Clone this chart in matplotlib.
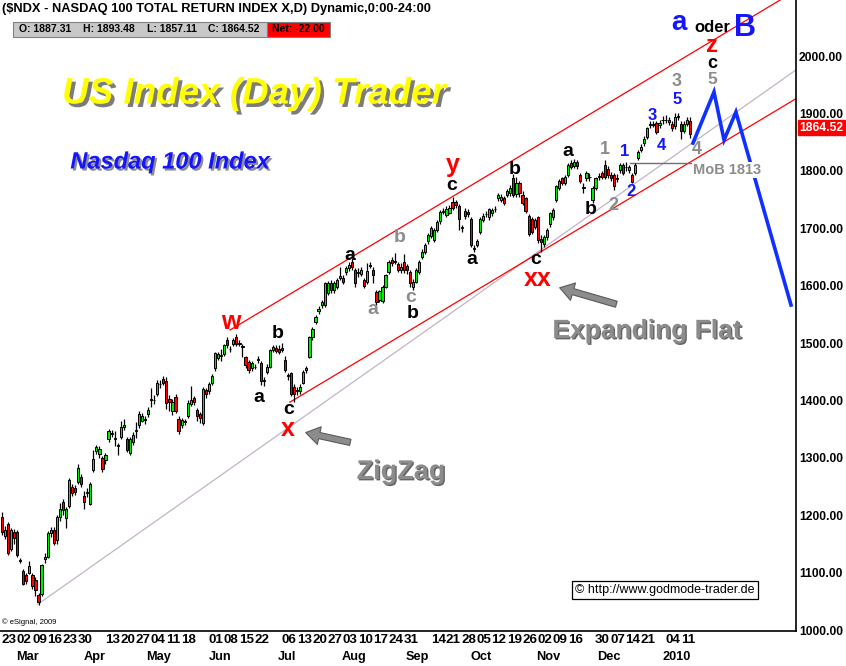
import matplotlib
matplotlib.use("Agg")
import numpy as np
import pandas as pd
import matplotlib.pyplot as plt
import matplotlib.patheffects as pe
from matplotlib.patches import Rectangle
from matplotlib.transforms import IdentityTransform, blended_transform_factory

plt.rcParams['font.family'] = ['Liberation Sans', 'DejaVu Sans']

W, H, DPI = 846, 666, 100

# ---------------- data ----------------
holidays = pd.to_datetime(['2009-04-10', '2009-05-25', '2009-07-03', '2009-09-07',
                           '2009-11-26', '2009-12-25', '2010-01-01'])
dates = pd.bdate_range('2009-02-19', '2010-01-12')
dates = dates[~dates.isin(holidays)]

opens = [1197, 1163, 1184, 1142, 1170, 1171, 1122, 1102, 1096, 1100, 1096, 1087, 1061, 1062, 1123, 1128,
         1169, 1175, 1157, 1197, 1223, 1195, 1216, 1249, 1247, 1258, 1267, 1233, 1239, 1220, 1278, 1312,
         1306, 1299, 1296, 1332, 1342, 1334, 1320, 1337, 1354, 1333, 1309, 1327, 1347, 1357, 1365, 1366,
         1376, 1400, 1400, 1412, 1428, 1437, 1433, 1402, 1381, 1406, 1368, 1357, 1363, 1372, 1393, 1404,
         1383, 1376, 1361, 1418, 1416, 1430, 1456, 1474, 1480, 1481, 1506, 1489, 1498, 1510, 1499, 1494,
         1475, 1467, 1456, 1459, 1470, 1465, 1436, 1450, 1459, 1488, 1492, 1490, 1492, 1470, 1442, 1447,
         1424, 1417, 1416, 1431, 1453, 1476, 1510, 1537, 1555, 1566, 1566, 1587, 1604, 1592, 1598, 1613,
         1613, 1623, 1630, 1642, 1627, 1622, 1621, 1610, 1607, 1634, 1628, 1589, 1575, 1573, 1598, 1624,
         1645, 1642, 1638, 1628, 1642, 1634, 1624, 1598, 1607, 1624, 1650, 1659, 1677, 1687, 1680, 1697,
         1712, 1729, 1723, 1727, 1745, 1745, 1739, 1702, 1730, 1729, 1716, 1666, 1671, 1694, 1714, 1724,
         1719, 1726, 1733, 1752, 1749, 1752, 1758, 1761, 1787, 1759, 1778, 1758, 1752, 1721, 1716, 1702,
         1719, 1682, 1672, 1684, 1707, 1719, 1750, 1770, 1787, 1779, 1793, 1813, 1809, 1815, 1793, 1772,
         1787, 1790, 1749, 1770, 1790, 1796, 1810, 1804, 1793, 1793, 1786, 1801, 1810, 1806, 1801, 1793,
         1796, 1822, 1836, 1848, 1859, 1880, 1880, 1883, 1879, 1888, 1888, 1885, 1882, 1878, 1894, 1882,
         1870, 1882, 1887.31]
highs = [1206, 1182, 1188, 1178, 1176, 1175, 1125, 1106, 1100, 1120, 1100, 1092, 1064, 1115, 1135, 1172,
         1180, 1180, 1200, 1222, 1228, 1214, 1265, 1255, 1252, 1290, 1272, 1243, 1247, 1258, 1314, 1322,
         1320, 1303, 1308, 1350, 1348, 1347, 1326, 1365, 1367, 1337, 1336, 1345, 1362, 1381, 1378, 1373,
         1388, 1421, 1409, 1436, 1436, 1442, 1440, 1410, 1402, 1412, 1372, 1369, 1368, 1400, 1425, 1408,
         1387, 1380, 1423, 1422, 1432, 1446, 1485, 1485, 1490, 1499, 1510, 1495, 1508, 1515, 1506, 1498,
         1478, 1470, 1468, 1463, 1477, 1468, 1440, 1463, 1490, 1497, 1496, 1497, 1500, 1478, 1448, 1450,
         1428, 1424, 1428, 1453, 1460, 1512, 1528, 1549, 1564, 1575, 1607, 1608, 1610, 1608, 1614, 1633,
         1618, 1635, 1641, 1648, 1631, 1630, 1633, 1614, 1640, 1642, 1632, 1592, 1593, 1601, 1621, 1645,
         1650, 1657, 1642, 1640, 1655, 1638, 1628, 1612, 1630, 1645, 1663, 1675, 1692, 1704, 1700, 1714,
         1731, 1736, 1738, 1741, 1755, 1750, 1742, 1706, 1735, 1733, 1719, 1670, 1682, 1719, 1726, 1730,
         1736, 1735, 1738, 1762, 1760, 1757, 1768, 1775, 1795, 1790, 1782, 1765, 1755, 1724, 1720, 1717,
         1722, 1688, 1688, 1700, 1729, 1735, 1776, 1785, 1790, 1793, 1813, 1818, 1820, 1819, 1797, 1778,
         1800, 1796, 1773, 1790, 1797, 1800, 1819, 1808, 1798, 1797, 1795, 1814, 1814, 1816, 1811, 1797,
         1814, 1836, 1846, 1860, 1877, 1887, 1886, 1887, 1888, 1895, 1897, 1893, 1886, 1900, 1901, 1886,
         1886, 1893, 1893.48]
lows = [1166, 1158, 1130, 1138, 1150, 1128, 1117, 1078, 1080, 1097, 1072, 1060, 1043, 1060, 1116, 1125,
        1162, 1148, 1150, 1190, 1200, 1177, 1212, 1233, 1236, 1255, 1250, 1210, 1232, 1217, 1275, 1306,
        1300, 1276, 1290, 1328, 1336, 1320, 1305, 1333, 1348, 1310, 1305, 1322, 1335, 1352, 1362, 1359,
        1371, 1388, 1393, 1408, 1421, 1426, 1385, 1381, 1375, 1378, 1342, 1352, 1357, 1369, 1390, 1392,
        1365, 1360, 1358, 1405, 1412, 1426, 1452, 1470, 1468, 1478, 1492, 1484, 1494, 1495, 1494, 1476,
        1457, 1448, 1452, 1454, 1466, 1427, 1425, 1446, 1456, 1484, 1482, 1481, 1484, 1450, 1436, 1408,
        1398, 1410, 1412, 1428, 1448, 1474, 1505, 1533, 1550, 1561, 1563, 1583, 1588, 1588, 1594, 1610,
        1602, 1619, 1626, 1628, 1598, 1615, 1617, 1595, 1603, 1630, 1605, 1566, 1572, 1570, 1595, 1620,
        1635, 1637, 1624, 1622, 1622, 1620, 1598, 1592, 1604, 1620, 1646, 1655, 1673, 1683, 1676, 1693,
        1708, 1724, 1720, 1724, 1732, 1735, 1697, 1694, 1716, 1719, 1668, 1658, 1667, 1690, 1710, 1720,
        1715, 1722, 1728, 1748, 1745, 1740, 1754, 1757, 1755, 1755, 1755, 1740, 1726, 1686, 1690, 1698,
        1675, 1659, 1668, 1680, 1703, 1715, 1746, 1766, 1775, 1775, 1790, 1803, 1805, 1804, 1778, 1762,
        1783, 1782, 1744, 1766, 1784, 1785, 1786, 1788, 1782, 1766, 1780, 1797, 1792, 1800, 1797, 1778,
        1792, 1818, 1832, 1844, 1856, 1875, 1876, 1864, 1875, 1882, 1884, 1880, 1870, 1873, 1889, 1856,
        1866, 1878, 1857.11]
closes = [1171, 1175, 1134, 1174, 1160, 1131, 1120, 1081, 1085, 1111, 1077, 1070, 1048, 1113, 1128, 1169,
          1175, 1152, 1197, 1210, 1209, 1210, 1262, 1238, 1241, 1283, 1255, 1223, 1241, 1255, 1298, 1319,
          1315, 1280, 1305, 1347, 1343, 1333, 1323, 1354, 1357, 1313, 1333, 1340, 1349, 1377, 1373, 1367,
          1384, 1402, 1401, 1430, 1429, 1430, 1396, 1398, 1398, 1382, 1346, 1366, 1364, 1396, 1401, 1398,
          1373, 1369, 1420, 1412, 1428, 1442, 1482, 1481, 1478, 1496, 1496, 1490, 1505, 1498, 1500, 1493,
          1461, 1453, 1465, 1458, 1473, 1433, 1434, 1459, 1487, 1493, 1486, 1485, 1488, 1453, 1444, 1412,
          1412, 1419, 1424, 1450, 1456, 1510, 1525, 1546, 1560, 1572, 1604, 1604, 1592, 1604, 1610, 1616,
          1607, 1630, 1636, 1633, 1604, 1624, 1627, 1600, 1625, 1636, 1618, 1571, 1590, 1598, 1618, 1642,
          1640, 1643, 1628, 1632, 1627, 1627, 1604, 1607, 1627, 1641, 1659, 1671, 1688, 1700, 1697, 1711,
          1728, 1730, 1733, 1735, 1736, 1741, 1716, 1700, 1721, 1724, 1671, 1664, 1677, 1716, 1722, 1725,
          1733, 1732, 1734, 1758, 1755, 1744, 1764, 1770, 1758, 1778, 1762, 1744, 1730, 1690, 1694, 1714,
          1680, 1676, 1684, 1697, 1726, 1732, 1773, 1782, 1779, 1790, 1810, 1807, 1815, 1808, 1782, 1770,
          1796, 1789, 1770, 1787, 1791, 1789, 1790, 1793, 1787, 1773, 1788, 1810, 1796, 1807, 1807, 1781,
          1810, 1833, 1842, 1856, 1874, 1881, 1882, 1868, 1884, 1889, 1889, 1888, 1874, 1893, 1895, 1870,
          1882, 1888, 1864.52]

net_change = -22.00
y_ticks = [1000, 1100, 1200, 1300, 1400, 1500, 1600, 1700, 1800, 1900, 2000]
week_ticks = ['2009-02-23', '2009-03-02', '2009-03-09', '2009-03-16', '2009-03-23', '2009-03-30',
              '2009-04-13', '2009-04-20', '2009-04-27', '2009-05-04', '2009-05-11', '2009-05-18',
              '2009-06-01', '2009-06-08', '2009-06-15', '2009-06-22', '2009-07-06', '2009-07-13',
              '2009-07-20', '2009-07-27', '2009-08-03', '2009-08-10', '2009-08-17', '2009-08-24',
              '2009-08-31', '2009-09-14', '2009-09-21', '2009-09-28', '2009-10-05', '2009-10-12',
              '2009-10-19', '2009-10-26', '2009-11-02', '2009-11-09', '2009-11-16', '2009-11-30',
              '2009-12-07', '2009-12-14', '2009-12-21', '2010-01-04', '2010-01-11']
month_ticks = ['2009-03', '2009-04', '2009-05', '2009-06', '2009-07', '2009-08', '2009-09',
               '2009-10', '2009-11', '2009-12', '2010-01']
month_names = ['Mar', 'Apr', 'May', 'Jun', 'Jul', 'Aug', 'Sep', 'Oct', 'Nov', 'Dec', '2010']

# trend lines (bar index, price)
upper_channel = [(74.9, 1522.6), (260.8, 2114.0)]
lower_channel = [(94.6, 1397.0), (260.8, 1925.6)]
base_line = [(11.8, 1045.0), (260.8, 1975.6)]
mob_level = 1813
mob_span = (206.3, 241.5)
projection = [(227.0, 1848.4), (233.9, 1937.3), (237.2, 1853.7), (241.1, 1902.4), (259.2, 1566.2)]

# ---------------- figure ----------------
fig = plt.figure(figsize=(W / DPI, H / DPI), dpi=DPI)
fig.patch.set_facecolor('white')
ax = fig.add_axes([0, 35 / H, 796 / W, 631 / H])
ax.set_facecolor('white')

n = len(closes)
assert len(opens) == len(highs) == len(lows) == n == len(dates)
xi = np.arange(n)
o = np.array(opens, float); c = np.array(closes, float)
hi = np.array(highs, float); lo = np.array(lows, float)
up = c >= o
cols = np.where(up, '#00ea00', '#ff0000')

ax.vlines(xi, lo, hi, color='black', lw=0.9, zorder=2)
ax.bar(xi, np.maximum(np.abs(c - o), 0.4), bottom=np.minimum(o, c), width=0.72,
       color=cols, edgecolor='black', linewidth=0.7, zorder=3)

# lines
def seg(pts, **kw):
    xs, ys = zip(*pts)
    ax.plot(xs, ys, **kw)

seg(base_line, color='#c4b4c8', lw=0.9, zorder=1)
seg(upper_channel, color='#ff0000', lw=0.9, zorder=1)
seg(lower_channel, color='#ff0000', lw=0.9, zorder=1)
ax.plot(mob_span, [mob_level, mob_level], color='#707070', lw=1.0, zorder=1)
seg(projection, color='#1030ff', lw=2.6, zorder=4, solid_joinstyle='miter')

ax.set_xlim(-0.657, 260.84)
ax.set_ylim(998.3, 2097.6)

for s in ['top', 'left']:
    ax.spines[s].set_visible(False)
for s in ['bottom', 'right']:
    ax.spines[s].set_color('black')
    ax.spines[s].set_linewidth(1.2)

ax.set_xticks([])
ax.yaxis.tick_right()
ax.set_yticks(y_ticks)
ax.set_yticklabels(['%.2f' % v for v in y_ticks], fontsize=8.7, fontweight='bold')
ax.tick_params(axis='y', length=0, pad=2)

# x labels
date_pos = {d.strftime('%Y-%m-%d'): i for i, d in enumerate(dates)}
tr = blended_transform_factory(ax.transData, ax.transAxes)
for d in week_ticks:
    ax.text(date_pos[d] + 0.3, -0.0143, d[-2:], transform=tr, ha='center', va='center',
            fontsize=9.6, fontweight='bold', clip_on=False)
for m, name in zip(month_ticks, month_names):
    first = min(i for i, d in enumerate(dates) if d.strftime('%Y-%m') == m)
    ax.text(first + 1.5, -0.0412, name, transform=tr, ha='center', va='center',
            fontsize=9.2, fontweight='bold', clip_on=False)

# last price box
ax.text(1.004, closes[-1], '%.2f' % closes[-1], transform=blended_transform_factory(ax.transAxes, ax.transData),
        ha='left', va='bottom', fontsize=8.7, fontweight='bold', color='white',
        bbox=dict(boxstyle='square,pad=0.12', fc='#ff0000', ec='#ff0000'), clip_on=False)

# ---------------- overlay texts (figure pixels, top-left origin) ----------------
ID = IdentityTransform()
def T(x, y, s, color='black', size=14, weight='bold', style='normal', ha='center', va='center', **kw):
    return fig.text(x, H - y, s, transform=ID, color=color, fontsize=size, fontweight=weight,
                    fontstyle=style, ha=ha, va=va, **kw)

T(2, 9, '($NDX - NASDAQ 100 TOTAL RETURN INDEX X,D) Dynamic,0:00-24:00', size=9.3, ha='left')

# OHLC panel
fig.add_artist(Rectangle((13, H - 37), 254, 15, transform=ID, fc='#c8c8c8', ec='#808080', lw=0.8))
fig.add_artist(Rectangle((267, H - 37), 63, 15, transform=ID, fc='#ff0000', ec='#808080', lw=0.8))
T(19, 29.5, 'O: %.2f' % opens[-1], size=7.5, ha='left')
T(83, 29.5, 'H: %.2f' % highs[-1], size=7.5, ha='left')
T(147, 29.5, 'L: %.2f' % lows[-1], size=7.5, ha='left')
T(208, 29.5, 'C: %.2f' % closes[-1], size=7.5, ha='left')
T(272, 29.5, 'Net: %.2f' % net_change, size=7.5, ha='left')

shadow = [pe.SimplePatchShadow(offset=(2.5, -2.5), shadow_rgbFace='#6e6e6e', alpha=0.9), pe.Normal()]
T(254, 94, 'US Index (Day) Trader', color='#ffff00', size=26.5, style='italic', path_effects=shadow)
T(170, 162, 'Nasdaq 100 Index', color='#1414ff', size=17, style='italic',
  path_effects=[pe.SimplePatchShadow(offset=(1.5, -1.5), shadow_rgbFace='#808080', alpha=0.9), pe.Normal()])

grey_fx = [pe.SimplePatchShadow(offset=(1, -1), shadow_rgbFace='#404040', alpha=0.8), pe.Normal()]
T(401, 472, 'ZigZag', color='#8c8c8c', size=19.5, path_effects=grey_fx)
T(647, 331, 'Expanding Flat', color='#8c8c8c', size=19, path_effects=grey_fx)

RED, BLK, GRY, BLU = '#ff0000', 'black', '#8c8c8c', '#1414ff'
wave_labels = [
    ('w', 231, 322, RED, 18), ('b', 278, 333, BLK, 14), ('a', 259, 398, BLK, 14),
    ('c', 289, 409, BLK, 14), ('x', 288, 429, RED, 18),
    ('a', 350, 256, BLK, 14), ('a', 373, 310, GRY, 14), ('b', 400, 237, GRY, 14),
    ('c', 411, 297, GRY, 14), ('b', 413, 313, BLK, 14),
    ('y', 453, 165, RED, 18), ('c', 452, 186, BLK, 14), ('a', 472, 259, BLK, 14),
    ('b', 515, 170, BLK, 14), ('c', 536, 260, BLK, 14), ('xx', 538, 279, RED, 18),
    ('a', 568, 151, BLK, 14), ('b', 591, 210, BLK, 14),
    ('1', 605, 150, GRY, 13), ('2', 613, 205, GRY, 13),
    ('1', 625, 152, BLU, 12), ('2', 631, 192, BLU, 12), ('3', 652, 116, BLU, 12),
    ('4', 661, 145, BLU, 12), ('5', 677, 99, BLU, 12), ('3', 677, 82, GRY, 13),
    ('4', 697, 150, GRY, 13), ('5', 712, 79, GRY, 12.5), ('c', 712, 64, BLK, 13),
    ('z', 712, 45, RED, 17), ('a', 679, 23, BLU, 20), ('oder', 712, 28, BLK, 12),
    ('B', 745, 28, BLU, 22),
]
for s, x, y, col, sz in wave_labels:
    T(x, y, s, color=col, size=sz)

T(727, 170, 'MoB 1813', color='#8c8c8c', size=10.5,
  bbox=dict(boxstyle='square,pad=0.05', fc='white', ec='none'))

# grey arrows
for tail, head in [((353, 443), (303, 432)), ((619, 305), (557, 287))]:
    ax.annotate('', xy=(head[0], H - head[1]), xycoords='figure pixels',
                xytext=(tail[0], H - tail[1]), textcoords='figure pixels',
                arrowprops=dict(arrowstyle='simple,head_length=1.0,head_width=1.3,tail_width=0.45',
                                fc='#8c8c8c', ec='#5a5a5a', lw=0.8))

T(2, 622, '\u00a9 eSignal, 2009', size=5.5, weight='normal', ha='left')
T(665, 590, '\u00a9 http://www.godmode-trader.de', size=9, weight='normal',
  bbox=dict(boxstyle='square,pad=0.25', fc='white', ec='black', lw=0.9))

fig.savefig('out.png', dpi=DPI, facecolor='white')
